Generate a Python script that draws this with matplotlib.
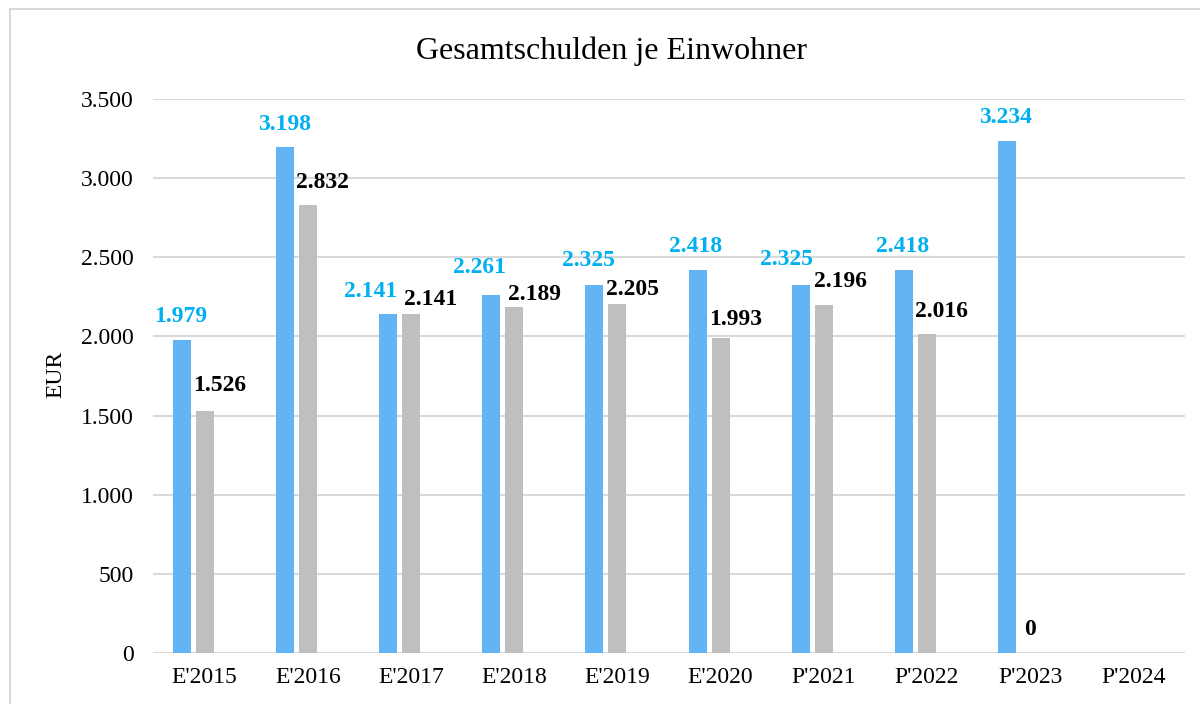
import numpy as np
import matplotlib.pyplot as plt
from matplotlib.patches import Rectangle
from matplotlib.ticker import FuncFormatter

plt.rcParams['font.family'] = ['Liberation Serif', 'DejaVu Serif']

# Gesamtschulden je Einwohner (EUR)
jahre = ["E'2015", "E'2016", "E'2017", "E'2018", "E'2019",
         "E'2020", "P'2021", "P'2022", "P'2023", "P'2024"]
reihe_blau = [1979, 3198, 2141, 2261, 2325, 2418, 2325, 2418, 3234, None]
reihe_grau = [1526, 2832, 2141, 2189, 2205, 1993, 2196, 2016, 0, None]

# label nudges in pixels (dx, dy above bar top)
versatz_blau = [(-1, 18), (0, 17), (-17, 17), (-12, 22), (-6, 19),
                (-2, 18), (-14, 20), (-1, 18), (-2, 18)]
versatz_grau = [(15, 20), (15, 17), (20, 9), (20, 7), (15, 9),
                (15, 13), (17, 18), (15, 17), (0, 18)]

BLAU = "#63B4F4"
GRAU = "#BFBFBF"
LABEL_BLAU = "#00B0F0"
GITTER = "#D9D9D9"


def de_format(v):
    return f"{int(v):,}".replace(",", ".")


fig = plt.figure(figsize=(12, 7.04), dpi=100)
ax = fig.add_axes([153 / 1200, 1 - 653 / 704, 1032 / 1200, 554 / 704])

x = np.arange(len(jahre))
breite = 0.174
schritt = 0.223

for i, (b, g) in enumerate(zip(reihe_blau, reihe_grau)):
    if b is not None:
        ax.bar(x[i] - schritt, b, width=breite, color=BLAU, zorder=3)
        dx, dy = versatz_blau[i]
        ax.annotate(de_format(b), (x[i] - schritt, b), xytext=(dx, dy),
                    textcoords='offset pixels', ha='center', va='baseline',
                    fontsize=17, fontweight='bold', color=LABEL_BLAU,
                    annotation_clip=False)
    if g is not None:
        ax.bar(x[i], g, width=breite, color=GRAU, zorder=3)
        dx, dy = versatz_grau[i]
        ax.annotate(de_format(g), (x[i], g), xytext=(dx, dy),
                    textcoords='offset pixels', ha='center', va='baseline',
                    fontsize=17, fontweight='bold', color='black',
                    annotation_clip=False)

ax.set_xlim(-0.5, len(jahre) - 0.5)
ax.set_ylim(0, 3500)
ax.set_yticks(np.arange(0, 3501, 500))
ax.yaxis.set_major_formatter(FuncFormatter(lambda v, p: de_format(v)))
ax.set_xticks(x)
ax.set_xticklabels(jahre)

ax.grid(axis='y', color=GITTER, linewidth=1.5, zorder=0)
ax.set_axisbelow(True)
for s in ax.spines.values():
    s.set_visible(False)
ax.tick_params(axis='both', length=0, labelsize=17)
ax.tick_params(axis='y', pad=14)
ax.tick_params(axis='x', pad=10)

fig.text(611 / 1200, 1 - 59 / 704, "Gesamtschulden je Einwohner",
         ha='center', va='baseline', fontsize=23)
fig.text(56 / 1200, 1 - 374 / 704, "EUR", rotation=90,
         ha='center', va='center', fontsize=17)

# light frame around the chart area
fig.patches.append(Rectangle((10 / 1200, -0.1), 2, 1.1 - 9 / 704,
                             transform=fig.transFigure, fill=False,
                             edgecolor=GITTER, linewidth=1.5))

fig.savefig("out.png", dpi=100)
